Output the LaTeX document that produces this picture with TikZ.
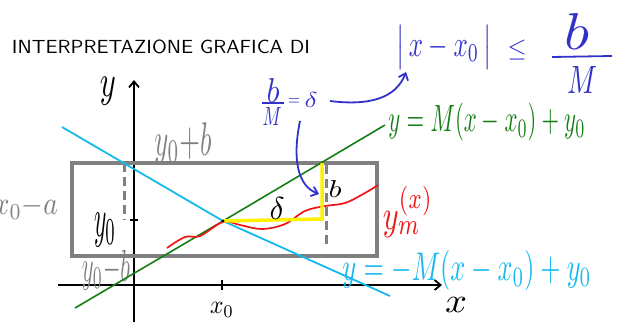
\documentclass[tikz,border=0pt]{standalone}
\usepackage{graphicx}
\usetikzlibrary{arrows.meta}
\definecolor{hblue}{RGB}{50,50,200}
\definecolor{hgreen}{RGB}{20,125,20}
\definecolor{hcyan}{RGB}{20,185,240}
\definecolor{hgray}{RGB}{128,128,128}
\definecolor{hred}{RGB}{240,20,20}
\definecolor{hyellow}{RGB}{255,240,0}
\newcommand{\rs}[3]{\resizebox*{#1pt}{#2pt}{#3}}
\begin{document}
\begin{tikzpicture}[x=1pt,y=-1pt,
  lbl/.style={inner sep=0pt},
  axis/.style={black,line width=1.8pt,-{Straight Barb[length=6pt,width=10pt]}},
  boxline/.style={hgray,line width=3.2pt},
  dashline/.style={hgray,line width=3pt,dash pattern=on 9pt off 5pt},
  barrow/.style={hblue,line width=1.8pt,-{Straight Barb[length=6pt,width=10pt]}}]
\useasboundingbox (0,0) rectangle (625,322);
% title
\node[lbl] (title) at (161,47) {\rs{298}{14}{\sffamily INTERPRETAZIONE GRAFICA DI}};
% blue formula
\node[lbl,text=hblue] (absx) at (444,47) {\rs{95}{44}{$\bigl|\,x-x_0\,\bigr|$}};
\node[lbl,text=hblue] (le) at (517,50) {\rs{19}{20}{$\le$}};
\node[lbl,text=hblue] (fb) at (577,31) {\rs{25}{36}{$b$}};
\node[lbl,text=hblue] (fm) at (582,80) {\rs{30}{27}{$M$}};
\draw[hblue,line width=1.8pt] (552,57) -- (612,56);
% axes
\coordinate (yb) at (134,322);
\coordinate (yt) at (134,80);
\coordinate (xl) at (58,285);
\coordinate (xr) at (442,285);
\draw[axis] (yb) -- (yt);
\draw[axis] (xl) -- (xr);
\node[lbl] (ylab) at (108,91) {\rs{16}{28}{$y$}};
\node[lbl] (xlab) at (456,305) {\rs{22}{15}{$x$}};
\draw[black,line width=1.5pt] (222,280) -- (222,290);
\node[lbl] (x0lab) at (222,310) {\rs{24}{15}{$x_0$}};
\draw[black,line width=1.5pt] (130,220) -- (138,220);
% rectangle
\draw[boxline] (72,163) rectangle (377,256);
\draw[dashline] (124,163) -- (124,220);
\draw[dashline] (326,165) -- (326,246);
\node[lbl,text=hgray] (ypb) at (183,144) {\rs{57}{42}{$y_0{+}b$}};
\node[lbl,text=hgray,anchor=east] (xma) at (58,207) {\rs{64}{24}{$x_0{-}a$}};
\node[lbl,text=hgray] (ymb) at (106,270) {\rs{48}{40}{$y_0{-}b$}};
\node[lbl] (y0) at (105,230) {\rs{22}{34}{$y_0$}};
% lines
\coordinate (c) at (223,221);
\draw[hgreen,line width=1.6pt] (75,308) -- (c) -- (385,125);
\draw[hcyan,line width=1.8pt] (62,127) -- (c) -- (390,296);
\node[lbl,text=hgreen] (geq) at (487,122) {\rs{197}{38}{$y=M(x-x_0)+y_0$}};
\node[lbl,text=hcyan] (ceq) at (467,270) {\rs{249}{40}{$y=-M(x-x_0)+y_0$}};
% red curve
\draw[hred,line width=1.7pt] plot[smooth,tension=0.6] coordinates {(167,248) (185,237) (200,236) (223,222) (240,225) (262,229) (285,224) (305,211) (325,206) (345,203) (365,193) (378,185)};
\node[lbl,text=hred] (ym) at (408,212) {\rs{50}{52}{$y^{(x)}_{m}$}};
% yellow
\coordinate (yc) at (322,219);
\coordinate (yt2) at (322,163);
\draw[hyellow,line width=3.5pt] (c) -- (yc) -- (yt2);
\fill[black] (c) circle (1.6pt);
\node[lbl] (delta) at (277,208) {\rs{15}{22}{$\delta$}};
\node[lbl] (bb) at (335,189) {\rs{13}{17}{$b$}};
% blue b/M = delta
\node[lbl,text=hblue] (sb) at (273,90) {\rs{13}{24}{$b$}};
\node[lbl,text=hblue] (sm) at (272,116) {\rs{19}{18}{$M$}};
\draw[hblue,line width=1.6pt] (262,103) -- (284,103);
\node[lbl,text=hblue] (seq) at (294,102) {\rs{12}{7}{$=$}};
\node[lbl,text=hblue] (sd) at (311,100) {\rs{13}{15}{$\delta$}};
\coordinate (a1s) at (330,101);
\coordinate (a1e) at (406,72);
\draw[barrow] (a1s) .. controls (370,106) and (396,98) .. (a1e);
\coordinate (a2s) at (300,121);
\coordinate (a2e) at (319,194);
\draw[barrow] (a2s) .. controls (292,160) and (298,186) .. (a2e);
\end{tikzpicture}
\end{document}
